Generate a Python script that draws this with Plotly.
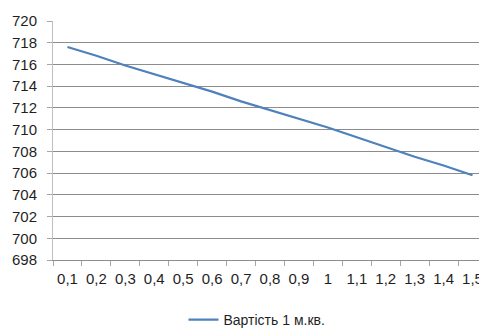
import plotly.graph_objects as go

categories = ["0,1", "0,2", "0,3", "0,4", "0,5", "0,6", "0,7", "0,8", "0,9", "1",
              "1,1", "1,2", "1,3", "1,4", "1,5"]
values = [717.6, 716.8, 715.9, 715.1, 714.3, 713.5, 712.6, 711.8, 711.0, 710.2,
          709.3, 708.4, 707.5, 706.7, 705.8]
y_ticks = list(range(698, 721, 2))
series_name = "Вартість 1 м.кв."

fig = go.Figure()
fig.add_trace(go.Scatter(x=categories, y=values, mode="lines", name=series_name,
                         line=dict(color="#4F81BD", width=2.2)))

font = dict(family="Liberation Sans, Arial, sans-serif", size=15, color="#1f1f1f")

# page body has an 8px margin, so the figure is sized 8px smaller
fig.update_layout(
    width=479, height=320,
    margin=dict(l=45, r=0, t=13, b=68, autoexpand=False),
    paper_bgcolor="white", plot_bgcolor="white",
    font=font,
    showlegend=True,
    legend=dict(orientation="h", x=0.47, xanchor="center", y=-0.251, yanchor="middle",
                font=dict(size=14, color="#1f1f1f")),
    xaxis=dict(type="category", tickson="boundaries", ticks="outside", ticklen=5,
               tickcolor="#a6a6a6", showline=True, linecolor="#8c8c8c", linewidth=1,
               showgrid=False, ticklabelstandoff=5, range=[-0.5, 14.5], automargin=False,
               tickangle=0),
    yaxis=dict(range=[698, 720], tickvals=y_ticks, ticks="outside", ticklen=5,
               tickcolor="#a6a6a6", showline=True, linecolor="#bfbfbf", linewidth=1,
               showgrid=True, gridcolor="#8c8c8c", gridwidth=1, zeroline=False,
               ticklabelstandoff=7, automargin=False),
)

fig.write_html("out.html")
